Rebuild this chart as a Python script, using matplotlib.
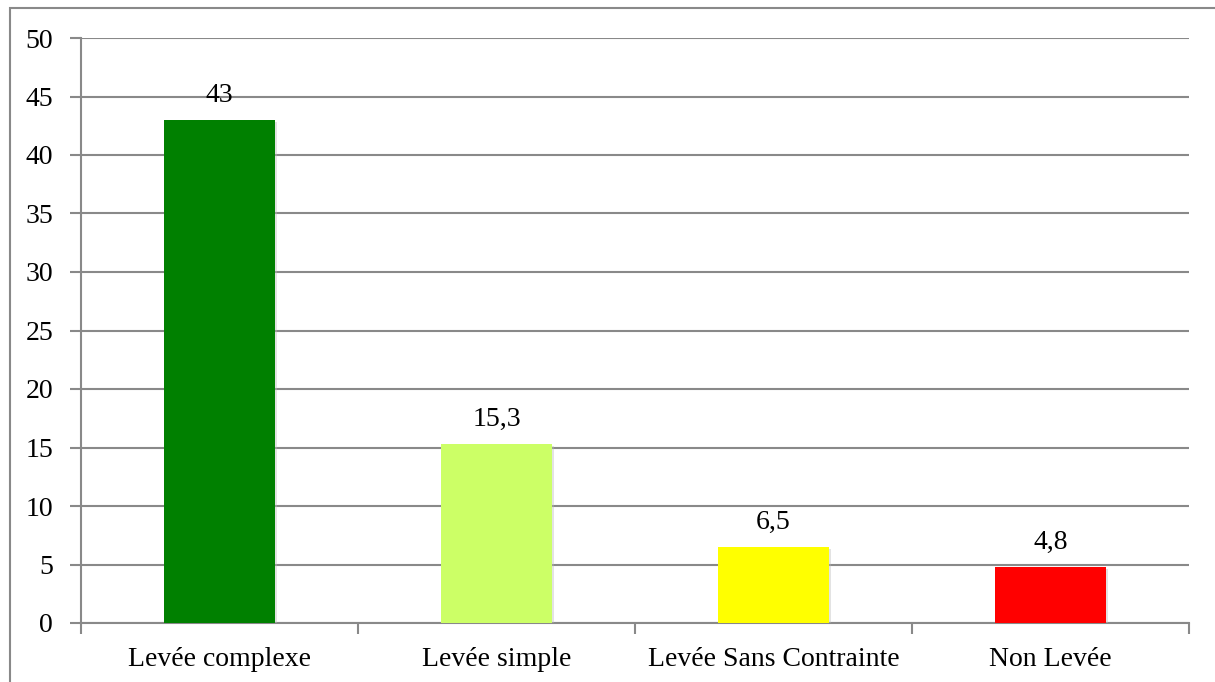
import matplotlib
matplotlib.use("Agg")
import matplotlib.pyplot as plt
import matplotlib.patheffects as pe
from matplotlib.patches import Rectangle

categories = ["Levée complexe", "Levée simple", "Levée Sans Contrainte", "Non Levée"]
values = [43, 15.3, 6.5, 4.8]
labels = ["43", "15,3", "6,5", "4,8"]
colors = ["#008000", "#CCFF66", "#FFFF00", "#FF0000"]

plt.rcParams["font.family"] = ["Liberation Serif", "DejaVu Serif"]
GRID = "#898989"
FS = 20

W, H = 1215, 682
fig = plt.figure(figsize=(W / 100, H / 100), dpi=100)
ax = fig.add_axes([81 / W, 1 - 623 / H, (1189 - 81) / W, (623 - 38) / H])

# outer frame around the chart area
fig.add_artist(Rectangle((10 / W, -0.1), 1.2, 1 - 8 / H + 0.1, transform=fig.transFigure,
                         fill=False, edgecolor=GRID, linewidth=1.5))

x = range(len(categories))
bars = ax.bar(x, values, width=0.4, color=colors, zorder=3)
for b in bars:
    b.set_path_effects([pe.SimplePatchShadow(offset=(1.5, -1.5), shadow_rgbFace="#bbbbbb", alpha=0.4),
                        pe.Normal()])

for xi, v, lab in zip(x, values, labels):
    ax.text(xi, v + 1.0, lab, ha="center", va="bottom", fontsize=FS)

ax.set_xlim(-0.5, len(categories) - 0.5)
ax.set_ylim(0, 50)
ax.set_yticks(range(0, 51, 5))
ax.tick_params(axis="y", labelsize=FS, length=8, width=1.5, color=GRID, pad=12)
ax.set_xticks(list(x))
ax.set_xticklabels(categories)
ax.set_xticks([i - 0.5 for i in range(len(categories) + 1)], minor=True)
ax.tick_params(axis="x", which="major", length=0, labelsize=FS, pad=17)
ax.tick_params(axis="x", which="minor", length=8, width=1.5, color=GRID)

ax.yaxis.grid(True, color=GRID, linewidth=1.5, zorder=0)
ax.set_axisbelow(True)
for side in ["top", "right"]:
    ax.spines[side].set_visible(False)
for side in ["left", "bottom"]:
    ax.spines[side].set_color(GRID)
    ax.spines[side].set_linewidth(1.5)

fig.savefig("out.png", dpi=100)
